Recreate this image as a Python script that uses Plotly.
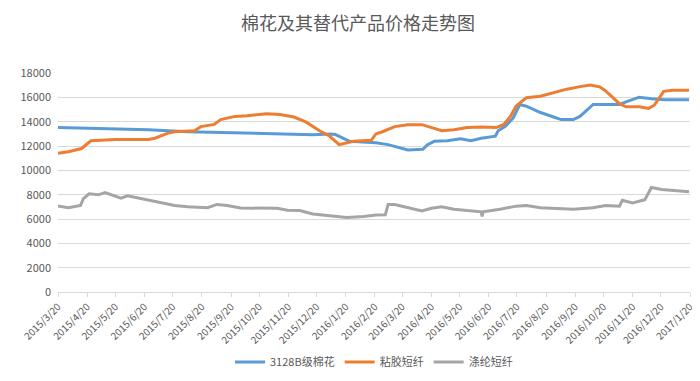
import plotly.graph_objects as go

title = "棉花及其替代产品价格走势图"
series_names = ["3128B级棉花", "粘胶短纤", "涤纶短纤"]

cotton_dates = ["2015-03-20", "2015-06-24", "2015-08-05", "2015-10-18", "2015-12-16", "2016-01-04",
                "2016-01-09", "2016-01-24", "2016-02-21", "2016-03-05", "2016-03-19", "2016-03-26",
                "2016-04-11", "2016-04-16", "2016-04-23", "2016-05-07", "2016-05-21", "2016-06-01",
                "2016-06-12", "2016-06-27", "2016-06-30", "2016-07-08", "2016-07-16", "2016-07-23",
                "2016-07-30", "2016-08-14", "2016-08-28", "2016-09-05", "2016-09-18", "2016-09-25",
                "2016-10-09", "2016-11-06", "2016-11-13", "2016-11-27", "2016-12-10", "2016-12-24",
                "2017-01-19"]
cotton_vals = [13520, 13340, 13180, 13070, 12940, 13000,
               12950, 12390, 12280, 12120, 11810, 11680,
               11730, 12120, 12390, 12440, 12600, 12440,
               12650, 12810, 13260, 13650, 14310, 15420,
               15280, 14760, 14390, 14180, 14180, 14440,
               15420, 15420, 15630, 16020, 15890, 15810,
               15810]

viscose_dates = ["2015-03-20", "2015-03-31", "2015-04-14", "2015-04-24", "2015-05-20", "2015-06-24",
                 "2015-07-01", "2015-07-15", "2015-07-22", "2015-08-12", "2015-08-19", "2015-09-02",
                 "2015-09-09", "2015-09-24", "2015-10-07", "2015-10-15", "2015-10-28", "2015-11-11",
                 "2015-11-26", "2015-12-09", "2015-12-16", "2015-12-23", "2016-01-02", "2016-01-13",
                 "2016-01-28", "2016-02-16", "2016-02-21", "2016-02-28", "2016-03-12", "2016-03-26",
                 "2016-04-10", "2016-04-20", "2016-05-01", "2016-05-14", "2016-05-28", "2016-06-12",
                 "2016-06-28", "2016-07-06", "2016-07-13", "2016-07-19", "2016-07-30", "2016-08-14",
                 "2016-08-28", "2016-09-11", "2016-09-25", "2016-10-06", "2016-10-16", "2016-10-22",
                 "2016-11-06", "2016-11-13", "2016-11-27", "2016-12-07", "2016-12-13", "2016-12-23",
                 "2017-01-01", "2017-01-19"]
viscose_vals = [11410, 11540, 11800, 12440, 12550, 12550,
                12650, 13070, 13180, 13260, 13600, 13780,
                14180, 14440, 14500, 14570, 14650, 14600,
                14390, 13970, 13600, 13260, 12860, 12120,
                12390, 12470, 13000, 13180, 13600, 13760,
                13760, 13550, 13260, 13340, 13520, 13570,
                13520, 13780, 14440, 15280, 15970, 16100,
                16420, 16680, 16890, 17030, 16870, 16550,
                15490, 15230, 15230, 15100, 15360, 16500,
                16600, 16600]

polyester_dates = ["2015-03-20", "2015-03-31", "2015-04-13", "2015-04-16", "2015-04-22", "2015-05-02",
                   "2015-05-09", "2015-05-20", "2015-05-26", "2015-06-02", "2015-06-16", "2015-07-01",
                   "2015-07-22", "2015-08-05", "2015-08-26", "2015-09-05", "2015-09-16", "2015-09-30",
                   "2015-10-25", "2015-11-08", "2015-11-19", "2015-12-02", "2015-12-16", "2016-01-02",
                   "2016-01-21", "2016-02-08", "2016-02-21", "2016-03-02", "2016-03-05", "2016-03-12",
                   "2016-03-22", "2016-04-10", "2016-04-20", "2016-05-01", "2016-05-14", "2016-06-04",
                   "2016-06-12", "2016-06-13", "2016-06-14", "2016-07-02", "2016-07-19", "2016-07-30",
                   "2016-08-14", "2016-09-18", "2016-10-09", "2016-10-22", "2016-11-06", "2016-11-09",
                   "2016-11-20", "2016-12-03", "2016-12-10", "2016-12-21", "2017-01-01", "2017-01-19"]
polyester_vals = [7065, 6930, 7120, 7670, 8070, 7990,
                  8170, 7860, 7720, 7910, 7700, 7460,
                  7120, 7010, 6930, 7200, 7120, 6910,
                  6910, 6880, 6720, 6700, 6410, 6280,
                  6120, 6200, 6330, 6350, 7200, 7200,
                  7010, 6670, 6880, 7010, 6800, 6620,
                  6590, 6220, 6590, 6800, 7060, 7120,
                  6930, 6800, 6930, 7120, 7060, 7540,
                  7330, 7590, 8590, 8430, 8380, 8250]

tick_dates = ["2015-03-20", "2015-04-20", "2015-05-20", "2015-06-20", "2015-07-20", "2015-08-20",
              "2015-09-20", "2015-10-20", "2015-11-20", "2015-12-20", "2016-01-20", "2016-02-20",
              "2016-03-20", "2016-04-20", "2016-05-20", "2016-06-20", "2016-07-20", "2016-08-20",
              "2016-09-20", "2016-10-20", "2016-11-20", "2016-12-20", "2017-01-20"]
tick_labels = ["2015/3/20", "2015/4/20", "2015/5/20", "2015/6/20", "2015/7/20", "2015/8/20",
               "2015/9/20", "2015/10/20", "2015/11/20", "2015/12/20", "2016/1/20", "2016/2/20",
               "2016/3/20", "2016/4/20", "2016/5/20", "2016/6/20", "2016/7/20", "2016/8/20",
               "2016/9/20", "2016/10/20", "2016/11/20", "2016/12/20", "2017/1/20"]
y_ticks = [0, 2000, 4000, 6000, 8000, 10000, 12000, 14000, 16000, 18000]
y_labels = ["0", "2000", "4000", "6000", "8000", "10000", "12000", "14000", "16000", "18000"]

colors = ["#5B9BD5", "#ED7D31", "#A5A5A5"]
FONT = "Noto Sans CJK SC, Noto Sans, sans-serif"

fig = go.Figure()
for name, xs, ys, c in zip(series_names,
                           [cotton_dates, viscose_dates, polyester_dates],
                           [cotton_vals, viscose_vals, polyester_vals], colors):
    fig.add_trace(go.Scatter(x=xs, y=ys, mode="lines", name=name,
                             line=dict(color=c, width=3)))

fig.update_layout(
    width=700, height=381,
    margin=dict(l=49, r=12, t=65, b=88),
    paper_bgcolor="white", plot_bgcolor="white",
    font=dict(family=FONT, color="#595959", size=11),
    title=dict(text=title, x=0.5, xanchor="center", y=0.958, yanchor="middle",
               font=dict(size=18, color="#595959", family=FONT)),
    showlegend=True,
    legend=dict(orientation="h", x=0.5, xanchor="center", y=-0.32, yanchor="middle",
                font=dict(size=11, color="#595959"), itemwidth=30, tracegroupgap=0),
    xaxis=dict(type="date", range=["2015-03-20", "2017-01-20"],
               tickmode="array", tickvals=tick_dates, ticktext=tick_labels,
               tickangle=-45, tickfont=dict(size=10, color="#595959"),
               showgrid=False, showline=True, linecolor="#D9D9D9", linewidth=1,
               ticks="outside", ticklen=4, tickcolor="#D9D9D9", zeroline=False),
    yaxis=dict(range=[0, 18010], tickmode="array", tickvals=y_ticks, ticktext=y_labels,
               showgrid=True, gridcolor="#D9D9D9", gridwidth=1, zeroline=False,
               showline=False, ticks="", tickfont=dict(size=11, color="#595959"),
               ticklabelstandoff=6),
)

fig.write_html("out.html")
